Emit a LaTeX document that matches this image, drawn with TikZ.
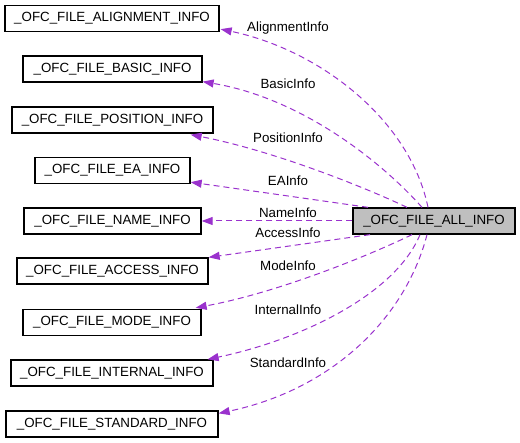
\documentclass[tikz,border=0pt]{standalone}
\usepackage{fontspec}
\setmainfont{Liberation Sans}
\usetikzlibrary{arrows.meta,calc}
\definecolor{edgepurple}{RGB}{154,50,205}
\definecolor{boxgray}{RGB}{191,191,191}
\begin{document}
\begin{tikzpicture}[x=1pt,y=-1pt,
  box/.style={draw=black,line width=1.3pt,minimum height=26pt,inner sep=0pt,
    font=\fontsize{13.33}{16}\selectfont},
  lbl/.style={font=\fontsize{13.33}{16}\selectfont,inner sep=0pt},
  usage/.style={draw=edgepurple,line width=1pt,dash pattern=on 6pt off 4pt,
    -{Triangle[length=11pt,width=8pt]}}]
\useasboundingbox (0,0) rectangle (520,443);
% target boxes
\node[box,minimum width=214pt] (align)    at (112,18.5) {\_OFC\_FILE\_ALIGNMENT\_INFO};
\node[box,minimum width=179pt] (basic)    at (112.5,69) {\_OFC\_FILE\_BASIC\_INFO};
\node[box,minimum width=201pt] (position) at (112.5,120) {\_OFC\_FILE\_POSITION\_INFO};
\node[box,minimum width=155pt] (ea)       at (112.5,170.5) {\_OFC\_FILE\_EA\_INFO};
\node[box,minimum width=177pt] (name)     at (112.5,221) {\_OFC\_FILE\_NAME\_INFO};
\node[box,minimum width=191pt] (access)   at (112.5,271) {\_OFC\_FILE\_ACCESS\_INFO};
\node[box,minimum width=178pt] (mode)     at (112,322.5) {\_OFC\_FILE\_MODE\_INFO};
\node[box,minimum width=202pt] (internal) at (112,373) {\_OFC\_FILE\_INTERNAL\_INFO};
\node[box,minimum width=212pt] (standard) at (112,424) {\_OFC\_FILE\_STANDARD\_INFO};
% source box
\node[box,fill=boxgray,minimum width=162pt] (all) at (434,221) {\_OFC\_FILE\_ALL\_INFO};
% edges
\draw[usage] ($(all.north)+(-6,0)$) .. controls (410,120) and (320,50) .. ($(align.south east)+(1,-3)$);
\draw[usage] ($(all.north)+(-12,0)$) .. controls (380,160) and (300,98) .. ($(basic.south east)+(0,-1)$);
\draw[usage] ($(all.north)+(-27,0)$) .. controls (360,185) and (270,150) .. ($(position.south east)+(-23,1)$);
\draw[usage] ($(all.north)+(-66,0)$) -- ($(ea.south east)+(0,-2)$);
\draw[usage] (all.west) -- (name.east);
\draw[usage] ($(all.south)+(-64,0)$) -- (access.north east);
\draw[usage] ($(all.south)+(-22,0)$) .. controls (370,255) and (280,292) .. ($(mode.north east)+(-6,-1)$);
\draw[usage] ($(all.south)+(-14,0)$) .. controls (395,295) and (300,340) .. ($(internal.north east)+(-6,0)$);
\draw[usage] ($(all.south)+(-7,0)$) .. controls (405,320) and (330,390) .. ($(standard.north east)+(0,3)$);
% labels
\node[lbl] (lalign)    at (288,28)  {AlignmentInfo};
\node[lbl] (lbasic)    at (288,84)  {BasicInfo};
\node[lbl] (lposition) at (288,138) {PositionInfo};
\node[lbl] (lea)       at (288,181) {EAInfo};
\node[lbl] (lname)     at (288,213) {NameInfo};
\node[lbl] (laccess)   at (288,233) {AccessInfo};
\node[lbl] (lmode)     at (288,266) {ModeInfo};
\node[lbl] (linternal) at (288,310) {InternalInfo};
\node[lbl] (lstandard) at (288,363) {StandardInfo};
\end{tikzpicture}
\end{document}
